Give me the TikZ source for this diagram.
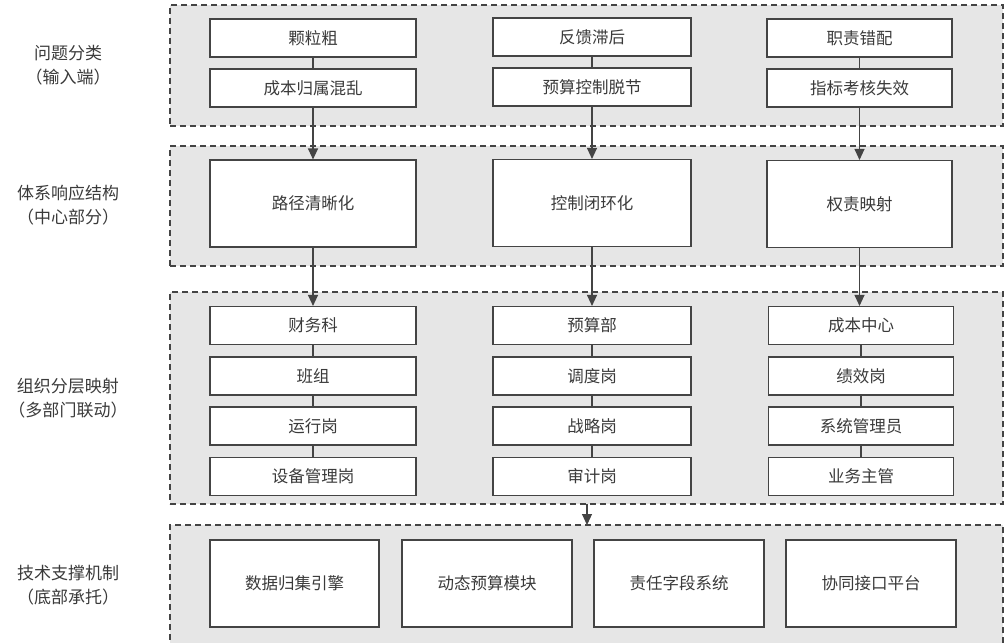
\documentclass[tikz,border=0pt]{standalone}
\usepackage{fontspec}
\setmainfont{Noto Sans CJK SC}
\usetikzlibrary{positioning,arrows.meta}
\definecolor{grpfill}{HTML}{E6E6E6}
\definecolor{edge}{HTML}{444444}
\definecolor{ink}{HTML}{3A3A3A}
\begin{document}
\begin{tikzpicture}[x=1pt, y=-1pt,
    group/.style={rectangle, draw=edge, fill=grpfill, line width=1.1pt, dash pattern=on 6pt off 4pt, inner sep=0pt},
    item/.style={rectangle, draw=edge, fill=white, line width=1.1pt, minimum height=38pt, inner sep=0pt, text=ink, font=\fontsize{16.5}{19}\selectfont},
    bigbox/.style={item, minimum height=87pt},
    tag/.style={align=center, text=ink, font=\fontsize{17}{24}\selectfont},
    link/.style={draw=edge, line width=1.1pt},
    arrow/.style={link, -{Triangle[length=11pt, width=10pt]}}]

\useasboundingbox (0,0) rectangle (1008,642);

% layer frames
\node [group, minimum width=833pt, minimum height=121pt] (grp1) at (586.5,65.5) {};
\node [group, minimum width=833pt, minimum height=120pt] (grp2) at (586.5,206) {};
\node [group, minimum width=833pt, minimum height=212pt] (grp3) at (586.5,398) {};
\node [group, minimum width=833pt, minimum height=135pt] (grp4) at (586.5,592.5) {};

% layer titles
\node [tag] (t1) at (68,65) {问题分类\\（输入端）};
\node [tag] (t2) at (68,205) {体系响应结构\\（中心部分）};
\node [tag] (t3) at (68,398) {组织分层映射\\（多部门联动）};
\node [tag] (t4) at (68,585) {技术支撑机制\\（底部承托）};

% problem classes
\node [item, minimum width=206pt] (p11) at (313,38) {颗粒粗};
\node [item, minimum width=206pt] (p12) at (313,88) {成本归属混乱};
\node [item, minimum width=198pt] (p21) at (592,37) {反馈滞后};
\node [item, minimum width=198pt] (p22) at (592,87) {预算控制脱节};
\node [item, minimum width=185pt] (p31) at (859.5,38) {职责错配};
\node [item, minimum width=185pt] (p32) at (859.5,88) {指标考核失效};

% response structure
\node [bigbox, minimum width=206pt] (r1) at (313,203.5) {路径清晰化};
\node [bigbox, minimum width=198pt] (r2) at (592,203) {控制闭环化};
\node [bigbox, minimum width=185pt] (r3) at (859.5,204) {权责映射};

% organisation mapping
\node [item, minimum width=206pt] (o11) at (313,325.5) {财务科};
\node [item, minimum width=206pt] (o12) at (313,376) {班组};
\node [item, minimum width=206pt] (o13) at (313,426) {运行岗};
\node [item, minimum width=206pt] (o14) at (313,476.5) {设备管理岗};
\node [item, minimum width=198pt] (o21) at (592,325.5) {预算部};
\node [item, minimum width=198pt] (o22) at (592,376) {调度岗};
\node [item, minimum width=198pt] (o23) at (592,426) {战略岗};
\node [item, minimum width=198pt] (o24) at (592,476.5) {审计岗};
\node [item, minimum width=185pt] (o31) at (861,325.5) {成本中心};
\node [item, minimum width=185pt] (o32) at (861,376) {绩效岗};
\node [item, minimum width=185pt] (o33) at (861,426) {系统管理员};
\node [item, minimum width=185pt] (o34) at (861,476.5) {业务主管};

% technical support
\node [bigbox, minimum width=169pt] (s1) at (294.5,583.5) {数据归集引擎};
\node [bigbox, minimum width=170pt] (s2) at (487,583.5) {动态预算模块};
\node [bigbox, minimum width=170pt] (s3) at (679,583.5) {责任字段系统};
\node [bigbox, minimum width=170pt] (s4) at (871,583.5) {协同接口平台};

\coordinate (g3out) at (587,504);
\coordinate (g4in) at (587,525);

\draw [link] (p11) -- (p12);
\draw [link] (p21) -- (p22);
\draw [link] (p31) -- (p32);
\draw [arrow] (p12) -- (r1);
\draw [arrow] (p22) -- (r2);
\draw [arrow] (p32) -- (r3);
\draw [arrow] (r1) -- (o11);
\draw [arrow] (r2) -- (o21);
\draw [arrow] (r3) -- (r3 |- o31.north);
\draw [link] (o11) -- (o12);
\draw [link] (o12) -- (o13);
\draw [link] (o13) -- (o14);
\draw [link] (o21) -- (o22);
\draw [link] (o22) -- (o23);
\draw [link] (o23) -- (o24);
\draw [link] (o31) -- (o32);
\draw [link] (o32) -- (o33);
\draw [link] (o33) -- (o34);
\draw [arrow] (g3out) -- (g4in);

\end{tikzpicture}
\end{document}
